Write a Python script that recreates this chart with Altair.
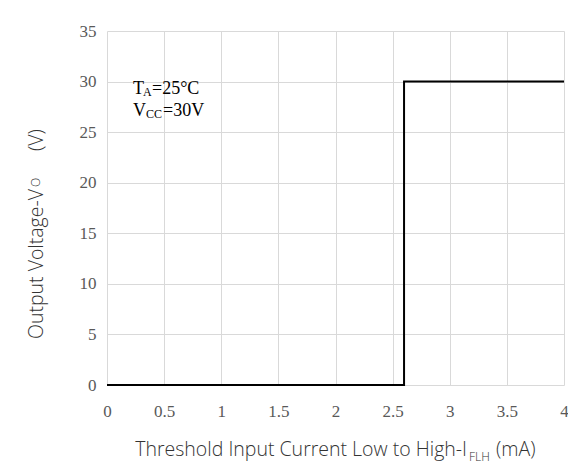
import altair as alt
import pandas as pd

# step curve: output voltage vs threshold input current
current_ma = [0, 2.6, 4.0]
voltage_v = [0, 30, 30]

x_ticks = [0, 0.5, 1, 1.5, 2, 2.5, 3, 3.5, 4]
y_ticks = [0, 5, 10, 15, 20, 25, 30, 35]

df = pd.DataFrame({"I": current_ma, "V": voltage_v})
dummy = pd.DataFrame({"d": [0]})

SERIF = "Liberation Serif"
SANS = "Open Sans"
TICK_COLOR = "#595959"
TITLE_COLOR = "#333333"

base = alt.Chart(df)

line = base.mark_line(color="black", strokeWidth=2, interpolate="step-after").encode(
    x=alt.X("I:Q", scale=alt.Scale(domain=[0, 4], nice=False),
            axis=alt.Axis(values=x_ticks, title=None, grid=True, ticks=False, domain=False,
                          labelFont=SERIF, labelFontSize=17, labelColor=TICK_COLOR,
                          labelPadding=18, labelFlush=False, format="~g")),
    y=alt.Y("V:Q", scale=alt.Scale(domain=[0, 35], nice=False),
            axis=alt.Axis(values=y_ticks, title=None, grid=True, ticks=False, domain=False,
                          labelFont=SERIF, labelFontSize=17, labelColor=TICK_COLOR,
                          labelPadding=11)),
)


def txt(s, x, y, size, font, color, align="left", angle=0, weight="normal"):
    kw = dict(text=s, align=align, baseline="alphabetic", font=font, fontSize=size,
              color=color, fontWeight=weight)
    if angle:
        kw["angle"] = angle
    return alt.Chart(dummy).mark_text(**kw).encode(x=alt.value(x), y=alt.value(y))


OX, OY = 107, 31  # plot origin in page pixels

texts = [
    # annotation
    txt("T", 133 - OX, 94 - OY, 18, SERIF, "black"),
    txt("A", 143 - OX, 96 - OY, 12, SERIF, "black"),
    txt("=25\u00b0C", 152 - OX, 94 - OY, 18, SERIF, "black"),
    txt("V", 133 - OX, 116 - OY, 18, SERIF, "black"),
    txt("CC", 146 - OX, 118 - OY, 12, SERIF, "black"),
    txt("=30V", 163 - OX, 116 - OY, 18, SERIF, "black"),
    # x title
    txt("Threshold Input Current Low to High-I", 467 - OX, 456 - OY, 19.5, SANS, TITLE_COLOR,
        align="right", weight=300),
    txt("FLH", 469 - OX, 461 - OY, 12, SANS, TITLE_COLOR, weight=300),
    txt("(mA)", 496 - OX, 456 - OY, 19.5, SANS, TITLE_COLOR, weight=300),
    # y title (rotated)
    txt("Output Voltage-V", 43 - OX, 189 - OY, 19.5, SANS, TITLE_COLOR, align="right",
        angle=270, weight=300),
    txt("O", 40 - OX, 187 - OY, 12, SANS, TITLE_COLOR, angle=270, weight=300),
    txt("(V)", 43 - OX, 151 - OY, 19.5, SANS, TITLE_COLOR, angle=270, weight=300),
]

chart = alt.layer(line, *texts).properties(
    width=457,
    height=354,
    padding={"left": 99, "top": 23, "right": 4, "bottom": 84},
    autosize=alt.AutoSizeParams(type="none"),
).configure_view(stroke=None).configure_axis(
    gridColor="#d9d9d9", gridWidth=1
)

chart.save("out.html", embed_options={"renderer": "svg", "actions": False})
